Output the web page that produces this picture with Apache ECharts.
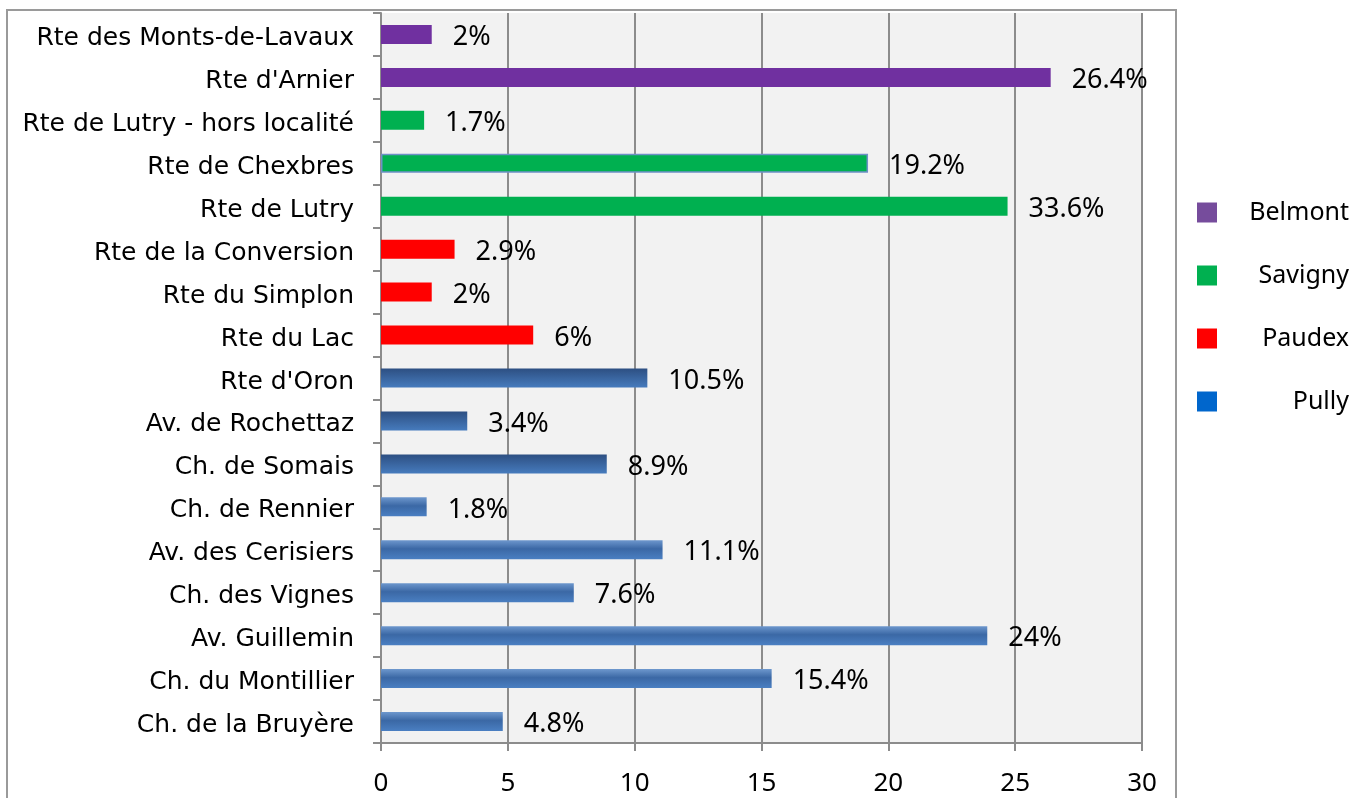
<!DOCTYPE html>
<html lang="fr">
<head>
  <meta charset="UTF-8">
  <title>Routes</title>
  <script src="https://cdn.jsdelivr.net/npm/echarts@6/dist/echarts.min.js"></script>
  <style>
    html, body { margin: 0; padding: 0; background: #fff; }
    #chart { width: 1366px; height: 798px; }
  </style>
</head>
<body>
  <div id="chart"></div>
  <script>
    // données (de haut en bas)
    var categories = [
      'Rte des Monts-de-Lavaux', "Rte d'Arnier", 'Rte de Lutry - hors localité',
      'Rte de Chexbres', 'Rte de Lutry', 'Rte de la Conversion', 'Rte du Simplon',
      'Rte du Lac', "Rte d'Oron", 'Av. de Rochettaz', 'Ch. de Somais',
      'Ch. de Rennier', 'Av. des Cerisiers', 'Ch. des Vignes', 'Av. Guillemin',
      'Ch. du Montillier', 'Ch. de la Bruyère'
    ];
    var values = [2, 26.4, 1.7, 19.2, 24.7, 2.9, 2, 6, 10.5, 3.4, 8.9, 1.8, 11.1, 7.6, 23.9, 15.4, 4.8];
    var valueLabels = ['2%', '26.4%', '1.7%', '19.2%', '33.6%', '2.9%', '2%', '6%', '10.5%',
      '3.4%', '8.9%', '1.8%', '11.1%', '7.6%', '24%', '15.4%', '4.8%'];
    var communes = ['Belmont', 'Belmont', 'Savigny', 'Savigny', 'Savigny', 'Paudex', 'Paudex',
      'Paudex', 'Pully', 'Pully', 'Pully', 'Pully', 'Pully', 'Pully', 'Pully', 'Pully', 'Pully'];
    var legendNames = ['Belmont', 'Savigny', 'Paudex', 'Pully'];
    var xTicks = { min: 0, max: 30, interval: 5 };

    // styles
    var colors = { Belmont: '#7030a0', Savigny: '#00b050', Paudex: '#ff0000', Pully: '#4a7ebb' };
    var legendColors = { Belmont: '#764c9c', Savigny: '#00b050', Paudex: '#ff0000', Pully: '#0066cc' };
    var darkPully = ["Rte d'Oron", 'Av. de Rochettaz', 'Ch. de Somais'];
    var outlined = ['Rte de Chexbres'];

    function pullyStyle(name) {
      if (darkPully.indexOf(name) >= 0) {
        return {
          color: new echarts.graphic.LinearGradient(0, 0, 0, 1, [
            { offset: 0, color: '#2d4f82' },
            { offset: 1, color: '#467bbd' }
          ])
        };
      }
      return {
        color: new echarts.graphic.LinearGradient(0, 0, 0, 1, [
          { offset: 0, color: '#6d97cd' },
          { offset: 0.45, color: '#3b68a5' },
          { offset: 1, color: '#4a7fc2' }
        ])
      };
    }

    var series = legendNames.map(function (c) {
      var data = categories.map(function (cat, i) {
        if (communes[i] !== c) return '-';
        var item = { value: values[i], label: { formatter: valueLabels[i] } };
        if (c === 'Pully') item.itemStyle = pullyStyle(cat);
        if (outlined.indexOf(cat) >= 0) {
          item.itemStyle = { borderColor: '#6f90c6', borderWidth: 1.5 };
        }
        return item;
      });
      return {
        name: c,
        type: 'bar',
        stack: 'all',
        barWidth: 19,
        itemStyle: { color: colors[c] },
        label: {
          show: true,
          position: 'right',
          distance: 21,
          offset: [0, 3],
          color: '#000',
          fontFamily: 'Noto Sans',
          fontSize: 27
        },
        emphasis: { disabled: true },
        data: data
      };
    });

    var chart = echarts.init(document.getElementById('chart'));
    chart.setOption({
      animation: false,
      backgroundColor: '#fff',
      graphic: [{
        type: 'rect',
        shape: { x: 7, y: 10, width: 1169, height: 800 },
        style: { fill: 'none', stroke: '#9a9a9a', lineWidth: 2 },
        z: -1
      }],
      grid: {
        left: 381, right: 224, top: 13, bottom: 55,
        show: true, backgroundColor: '#f2f2f2', borderWidth: 0
      },
      legend: {
        orient: 'vertical',
        left: 1192,
        top: 195,
        itemWidth: 20,
        itemHeight: 20,
        itemGap: 38,
        selectedMode: false,
        data: legendNames.map(function (n) {
          return { name: n, icon: 'rect', itemStyle: { color: legendColors[n] } };
        }),
        formatter: function (n) { return '{t|' + n + '}'; },
        textStyle: {
          rich: {
            t: { width: 127, align: 'right', fontFamily: 'Noto Sans', fontSize: 25, color: '#000' }
          }
        }
      },
      xAxis: {
        type: 'value',
        min: xTicks.min,
        max: xTicks.max,
        interval: xTicks.interval,
        axisLine: { show: true, lineStyle: { color: '#8c8c8c', width: 2 } },
        axisTick: { show: true, length: 8, lineStyle: { color: '#8c8c8c', width: 2 } },
        splitLine: { show: true, lineStyle: { color: '#8c8c8c', width: 2 } },
        axisLabel: { color: '#000', fontFamily: 'Noto Sans', fontSize: 26, margin: 28 }
      },
      yAxis: {
        type: 'category',
        inverse: true,
        data: categories,
        axisLine: { show: true, lineStyle: { color: '#8c8c8c', width: 2 } },
        axisTick: { show: true, length: 8, lineStyle: { color: '#8c8c8c', width: 2 } },
        axisLabel: {
          margin: 27,
          formatter: function (v) { return '{c|' + v + '}'; },
          rich: {
            c: { color: '#000', fontFamily: 'DejaVu Sans', fontSize: 25, padding: [8, 0, 0, 0] }
          }
        },
        splitLine: { show: false }
      },
      series: series
    });
  </script>
</body>
</html>
